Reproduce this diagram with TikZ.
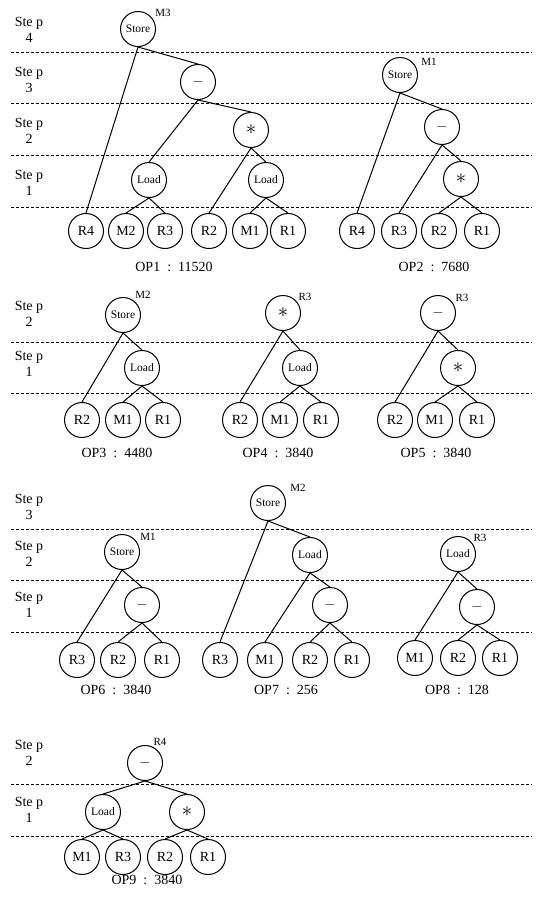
\documentclass[tikz,border=0pt]{standalone}
\usepackage{fontspec}
\setmainfont{Liberation Serif}
\begin{document}
\begin{tikzpicture}[x=1pt,y=-1pt,
  nd/.style={circle,draw,line width=1pt,minimum size=35pt,inner sep=0pt,font=\fontsize{14}{14}\selectfont},
  opn/.style={nd,font=\fontsize{11.5}{12}\selectfont},
  sym/.style={nd,font=\fontsize{15}{15}\selectfont},
  astr/.style={nd,font=\fontsize{22}{22}\selectfont},
  tag/.style={font=\fontsize{11}{11}\selectfont,inner sep=0pt},
  stp/.style={align=center,font=\fontsize{14}{16}\selectfont,inner sep=0pt},
  opcap/.style={font=\fontsize{14}{14}\selectfont,inner sep=0pt},
  sep/.style={dash pattern=on 3pt off 2pt,line width=1pt},
  ed/.style={line width=1pt}]
\useasboundingbox (0,0) rectangle (539,900);

% ---------- Section 1 ----------
\foreach \y in {52,103,155,207} \draw[sep] (11,\y) -- (532,\y);
\node[stp] (s14) at (29,30) {Ste p\\4};
\node[stp] (s13) at (29,80) {Ste p\\3};
\node[stp] (s12) at (29,131) {Ste p\\2};
\node[stp] (s11) at (29,183) {Ste p\\1};

% OP1
\node[opn] (a0) at (138,29) {Store};
\node[tag] (a0t) at (163,13) {M3};
\node[sym] (a1) at (198,82) {$-$};
\node[astr] (a2) at (251,130) {$\ast$};
\node[opn] (a3) at (149,180) {Load};
\node[opn] (a4) at (266,180) {Load};
\node[nd] (aR4) at (86,231) {R4};
\node[nd] (aM2) at (126,231) {M2};
\node[nd] (aR3) at (165,231) {R3};
\node[nd] (aR2) at (209,231) {R2};
\node[nd] (aM1) at (250,231) {M1};
\node[nd] (aR1) at (288,231) {R1};
\node[opcap] (acap) at (174,267) {OP1~~:~~11520};
\draw[ed] (a0.south) -- (aR4.north);
\draw[ed] (a0.south) -- (a1.north);
\draw[ed] (a1.south) -- (a3.north);
\draw[ed] (a1.south) -- (a2.north);
\draw[ed] (a2.south) -- (aR2.north);
\draw[ed] (a2.south) -- (a4.north);
\draw[ed] (a3.south) -- (aM2.north);
\draw[ed] (a3.south) -- (aR3.north);
\draw[ed] (a4.south) -- (aM1.north);
\draw[ed] (a4.south) -- (aR1.north);

% OP2
\node[opn] (b0) at (400,75) {Store};
\node[tag] (b0t) at (429,62) {M1};
\node[sym] (b1) at (442,127) {$-$};
\node[astr] (b2) at (461,179) {$\ast$};
\node[nd] (bR4) at (357,231) {R4};
\node[nd] (bR3) at (399,231) {R3};
\node[nd] (bR2) at (439,231) {R2};
\node[nd] (bR1) at (482,231) {R1};
\node[opcap] (bcap) at (434,267) {OP2~~:~~7680};
\draw[ed] (b0.south) -- (bR4.north);
\draw[ed] (b0.south) -- (b1.north);
\draw[ed] (b1.south) -- (bR3.north);
\draw[ed] (b1.south) -- (b2.north);
\draw[ed] (b2.south) -- (bR2.north);
\draw[ed] (b2.south) -- (bR1.north);

% ---------- Section 2 ----------
\foreach \y in {342,393} \draw[sep] (11,\y) -- (532,\y);
\node[stp] (s22) at (29,314) {Ste p\\2};
\node[stp] (s21) at (29,364) {Ste p\\1};

% OP3
\node[opn] (c0) at (123,315) {Store};
\node[tag] (c0t) at (143,295) {M2};
\node[opn] (c1) at (142,368) {Load};
\node[nd] (cR2) at (82,420) {R2};
\node[nd] (cM1) at (123,420) {M1};
\node[nd] (cR1) at (163,420) {R1};
\node[opcap] (ccap) at (117,453) {OP3~~:~~4480};
\draw[ed] (c0.south) -- (cR2.north);
\draw[ed] (c0.south) -- (c1.north);
\draw[ed] (c1.south) -- (cM1.north);
\draw[ed] (c1.south) -- (cR1.north);

% OP4
\node[astr] (d0) at (283,313) {$\ast$};
\node[tag] (d0t) at (305,297) {R3};
\node[opn] (d1) at (300,368) {Load};
\node[nd] (dR2) at (240,420) {R2};
\node[nd] (dM1) at (280,420) {M1};
\node[nd] (dR1) at (321,420) {R1};
\node[opcap] (dcap) at (278,453) {OP4~~:~~3840};
\draw[ed] (d0.south) -- (dR2.north);
\draw[ed] (d0.south) -- (d1.north);
\draw[ed] (d1.south) -- (dM1.north);
\draw[ed] (d1.south) -- (dR1.north);

% OP5
\node[sym] (e0) at (438,313) {$-$};
\node[tag] (e0t) at (462,298) {R3};
\node[astr] (e1) at (458,368) {$\ast$};
\node[nd] (eR2) at (395,420) {R2};
\node[nd] (eM1) at (435,420) {M1};
\node[nd] (eR1) at (477,420) {R1};
\node[opcap] (ecap) at (436,453) {OP5~~:~~3840};
\draw[ed] (e0.south) -- (eR2.north);
\draw[ed] (e0.south) -- (e1.north);
\draw[ed] (e1.south) -- (eM1.north);
\draw[ed] (e1.south) -- (eR1.north);

% ---------- Section 3 ----------
\foreach \y in {529,580,632} \draw[sep] (11,\y) -- (532,\y);
\node[stp] (s33) at (29,507) {Ste p\\3};
\node[stp] (s32) at (29,554) {Ste p\\2};
\node[stp] (s31) at (29,605) {Ste p\\1};

% OP6
\node[opn] (f0) at (122,552) {Store};
\node[tag] (f0t) at (148,537) {M1};
\node[sym] (f1) at (142,605) {$-$};
\node[nd] (fR3) at (77,660) {R3};
\node[nd] (fR2) at (118,660) {R2};
\node[nd] (fR1) at (162,660) {R1};
\node[opcap] (fcap) at (116,690) {OP6~~:~~3840};
\draw[ed] (f0.south) -- (fR3.north);
\draw[ed] (f0.south) -- (f1.north);
\draw[ed] (f1.south) -- (fR2.north);
\draw[ed] (f1.south) -- (fR1.north);

% OP7
\node[opn] (g0) at (268,503) {Store};
\node[tag] (g0t) at (298,488) {M2};
\node[opn] (g1) at (310,555) {Load};
\node[sym] (g2) at (330,605) {$-$};
\node[nd] (gR3) at (220,660) {R3};
\node[nd] (gM1) at (265,660) {M1};
\node[nd] (gR2) at (310,660) {R2};
\node[nd] (gR1) at (352,660) {R1};
\node[opcap] (gcap) at (286,690) {OP7~~:~~256};
\draw[ed] (g0.south) -- (gR3.north);
\draw[ed] (g0.south) -- (g1.north);
\draw[ed] (g1.south) -- (gM1.north);
\draw[ed] (g1.south) -- (g2.north);
\draw[ed] (g2.south) -- (gR2.north);
\draw[ed] (g2.south) -- (gR1.north);

% OP8
\node[opn] (h0) at (458,554) {Load};
\node[tag] (h0t) at (480,538) {R3};
\node[sym] (h1) at (477,607) {$-$};
\node[nd] (hM1) at (415,658) {M1};
\node[nd] (hR2) at (458,658) {R2};
\node[nd] (hR1) at (500,658) {R1};
\node[opcap] (hcap) at (457,690) {OP8~~:~~128};
\draw[ed] (h0.south) -- (hM1.north);
\draw[ed] (h0.south) -- (h1.north);
\draw[ed] (h1.south) -- (hR2.north);
\draw[ed] (h1.south) -- (hR1.north);

% ---------- Section 4 ----------
\foreach \y in {784,836} \draw[sep] (11,\y) -- (532,\y);
\node[stp] (s42) at (29,753) {Ste p\\2};
\node[stp] (s41) at (29,810) {Ste p\\1};

% OP9
\node[sym] (i0) at (145,763) {$-$};
\node[tag] (i0t) at (160,742) {R4};
\node[opn] (i1) at (103,812) {Load};
\node[astr] (i2) at (187,812) {$\ast$};
\node[nd] (iM1) at (82,857) {M1};
\node[nd] (iR3) at (123,857) {R3};
\node[nd] (iR2) at (165,857) {R2};
\node[nd] (iR1) at (208,857) {R1};
\node[opcap] (icap) at (147,880) {OP9~~:~~3840};
\draw[ed] (i0.south) -- (i1.north);
\draw[ed] (i0.south) -- (i2.north);
\draw[ed] (i1.south) -- (iM1.north);
\draw[ed] (i1.south) -- (iR3.north);
\draw[ed] (i2.south) -- (iR2.north);
\draw[ed] (i2.south) -- (iR1.north);
\end{tikzpicture}
\end{document}
